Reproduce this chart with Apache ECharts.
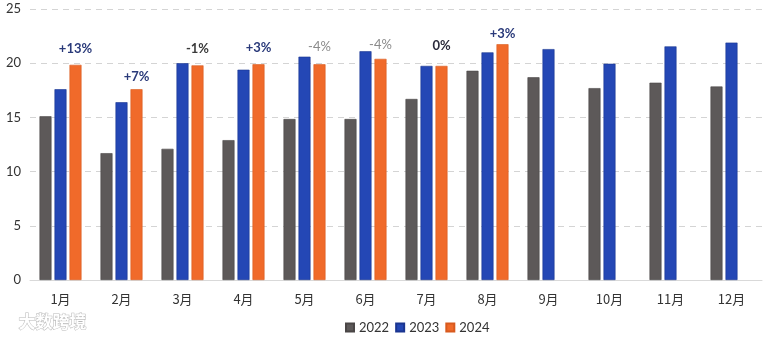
<!DOCTYPE html>
<html><head><meta charset="utf-8">
<script src="https://cdn.jsdelivr.net/npm/echarts@6/dist/echarts.min.js"></script>
<style>html,body{margin:0;padding:0;background:#fff}#c{width:766px;height:341px}</style>
</head><body><div id="c"></div>
<script>
const categories = ['1月','2月','3月','4月','5月','6月','7月','8月','9月','10月','11月','12月'];
const s2022 = [15.1,11.7,12.1,12.9,14.85,14.85,16.7,19.3,18.7,17.7,18.2,17.85];
const s2023 = [17.6,16.4,20.0,19.4,20.6,21.1,19.75,21.0,21.3,19.95,21.55,21.9];
const s2024 = [19.85,17.6,19.8,19.9,19.9,20.4,19.75,21.75,null,null,null,null];
const pctLabels = ['+13%','+7%','-1%','+3%','-4%','-4%','0%','+3%'];
const yTicks = [0,5,10,15,20,25];

const pctColors = ['#2a3a7a','#2a3a7a','#3a3a3a','#2a3a7a','#8a8a8a','#8a8a8a','#2b2b3b','#2a3a7a'];
const pctWeights = ['bold','bold','bold','bold','normal','normal','bold','bold'];
const pctDist = [10,6,10,10,11,8,14,4];

const chart = echarts.init(document.getElementById('c'));
const font = 'Lato, "Noto Sans", sans-serif';
chart.setOption({
  animation:false,
  textStyle:{fontFamily:font},
  grid:{left:30,right:4,top:9,bottom:61},
  legend:{
    data:['2022','2023','2024'], left:340, top:316,
    itemWidth:8, itemHeight:8, itemGap:6, icon:'rect',
    textStyle:{fontSize:13,color:'#333',fontFamily:font}
  },
  xAxis:{
    type:'category', data:categories,
    axisTick:{show:false},
    axisLine:{lineStyle:{color:'#d9d9d9'}},
    axisLabel:{color:'#333',fontSize:13,margin:13,fontFamily:'"Noto Sans CJK SC", sans-serif'}
  },
  yAxis:{
    type:'value', min:yTicks[0], max:yTicks[yTicks.length-1], interval:5,
    axisLine:{show:false}, axisTick:{show:false},
    axisLabel:{color:'#333',fontSize:13,margin:9},
    splitLine:{lineStyle:{color:'#d4d4d4',type:[6,5]}}
  },
  series:[
    {name:'2022',type:'bar',data:s2022,barWidth:12,barGap:'25%',
     itemStyle:{color:'#5d5959',borderColor:'#4a4646',borderWidth:0.6}},
    {name:'2023',type:'bar',data:s2023,barWidth:12,barGap:'25%',
     itemStyle:{color:'#2447b5',borderColor:'#1a3590',borderWidth:0.6}},
    {name:'2024',type:'bar',barWidth:12,barGap:'25%',
     itemStyle:{color:'#f06a2a',borderColor:'#d85a1e',borderWidth:0.6},
     data:s2024.map((v,i)=> i<pctLabels.length ? {
        value:v,
        label:{show:true,position:'top',distance:pctDist[i],formatter:pctLabels[i],
               color:pctColors[i],fontWeight:pctWeights[i],fontSize:13,fontFamily:font}
     } : v)}
  ],
  graphic:[
    {type:'text',left:18,top:313,style:{text:'大数跨境',fontSize:17,fontWeight:'bold',
      fill:'#fff',stroke:'#b8b8b8',lineWidth:1,fontFamily:'"Noto Sans CJK SC", sans-serif'}}
  ]
});
</script></body></html>
